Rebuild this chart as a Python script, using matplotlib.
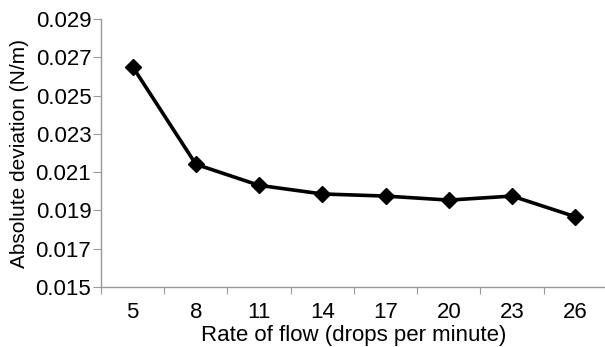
import matplotlib
matplotlib.use("Agg")
import numpy as np
import matplotlib.pyplot as plt

# data
rates = ["5", "8", "11", "14", "17", "20", "23", "26"]
deviation = [0.02651, 0.02141, 0.02031, 0.01986, 0.01975, 0.01954, 0.01975, 0.01867]
yticks = [0.015, 0.017, 0.019, 0.021, 0.023, 0.025, 0.027, 0.029]

plt.rcParams['font.family'] = ['Liberation Sans', 'DejaVu Sans']
fs = 16

fig = plt.figure(figsize=(6.05, 3.47), dpi=100)
ax = fig.add_axes([101/605, 1 - 287/347, 506/605, 268/347])

x = np.arange(1, len(rates) + 1)
ax.plot(x, deviation, color='black', lw=2.6, marker='D', markersize=8,
        markerfacecolor='black', markeredgecolor='black')

ax.set_xlim(0.5, len(rates) + 0.5)
ax.set_ylim(0.015, 0.029)
ax.set_yticks(yticks)
ax.set_yticklabels([f"{v:.3f}" for v in yticks])

# category axis: ticks sit between categories, labels centred
ax.set_xticks(np.arange(0.5, len(rates) + 1, 1))
ax.set_xticklabels([])
ax.set_xticks(x, minor=True)
ax.set_xticklabels(rates, minor=True)
ax.tick_params(axis='x', which='minor', length=0, pad=11, labelsize=fs)
ax.tick_params(axis='x', which='major', length=5, color='#999999', direction='out')
ax.tick_params(axis='y', length=6, color='#999999', direction='out', labelsize=fs, pad=1)

for s in ['top', 'right']:
    ax.spines[s].set_visible(False)
for s in ['left', 'bottom']:
    ax.spines[s].set_color('#999999')
    ax.spines[s].set_linewidth(1.0)

ax.set_xlabel("Rate of flow (drops per minute)", fontsize=fs, labelpad=1)
ax.set_ylabel("Absolute deviation (N/m)", fontsize=15, labelpad=5)

fig.savefig("out.png", dpi=100)
